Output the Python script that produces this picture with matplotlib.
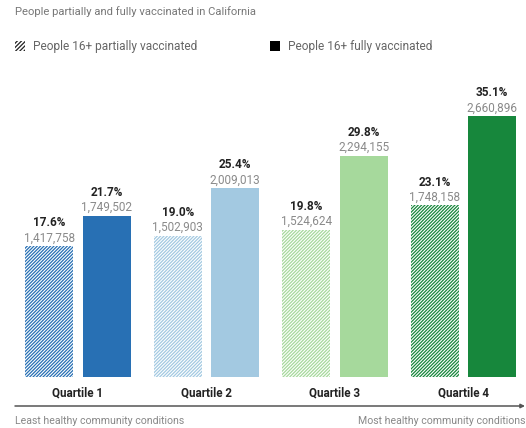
import matplotlib
matplotlib.use("Agg")
import matplotlib.pyplot as plt
from matplotlib.patches import Rectangle
import numpy as np

plt.rcParams['font.family'] = ['Roboto', 'DejaVu Sans']
plt.rcParams['hatch.linewidth'] = 0.9

# Data
quartiles = ["Quartile 1", "Quartile 2", "Quartile 3", "Quartile 4"]
partial_pct = [17.6, 19.0, 19.8, 23.1]
partial_count = [1417758, 1502903, 1524624, 1748158]
full_pct = [21.7, 25.4, 29.8, 35.1]
full_count = [1749502, 2009013, 2294155, 2660896]
colors = ["#2870b4", "#a3c9e1", "#a6d99c", "#17873c"]

title = "People partially and fully vaccinated in California"
legend_labels = ["People 16+ partially vaccinated", "People 16+ fully vaccinated"]
axis_left = "Least healthy community conditions"
axis_right = "Most healthy community conditions"

W, H = 526, 428
fig = plt.figure(figsize=(W / 100, H / 100), dpi=100)

# Bar axes: baseline at 377 px, 7.43 px per percentage point
base_px = 377
px_per_pct = 7.43
ymax = 40
ax = fig.add_axes([0, (H - base_px) / H, 1, ymax * px_per_pct / H])
ax.set_ylim(0, ymax)
group_px = 128.5
first_center_px = 78
ax.set_xlim(-first_center_px / group_px, (W - first_center_px) / group_px)
ax.axis("off")

x = np.arange(len(quartiles))
offset = 0.223
width = 0.374
hatch = "/" * 10

for i in range(len(quartiles)):
    c = colors[i]
    ax.bar(x[i] - offset, partial_pct[i], width, facecolor="white",
           edgecolor=c, hatch=hatch, linewidth=0)
    ax.bar(x[i] + offset, full_pct[i], width, color=c, linewidth=0)
    for xx, p, n in ((x[i] - offset, partial_pct[i], partial_count[i]),
                     (x[i] + offset, full_pct[i], full_count[i])):
        ax.annotate(f"{n:,}", (xx, p), xytext=(0, 6), textcoords="offset points",
                    ha="center", va="center", fontsize=8.5, color="#8a8a8a")
        ax.annotate(f"{p:.1f}%", (xx, p), xytext=(0, 16.8), textcoords="offset points",
                    ha="center", va="center", fontsize=8.5, color="#222222",
                    fontweight="bold")

# Overlay axes in pixel coordinates for title, legend and footer
ov = fig.add_axes([0, 0, 1, 1], zorder=-1)
ov.set_xlim(0, W)
ov.set_ylim(H, 0)
ov.axis("off")

ov.text(15, 12, title, fontsize=8.1, color="#777777", va="center", ha="left")

ov.add_patch(Rectangle((15, 41), 10, 10, facecolor="white", edgecolor="#222222",
                       hatch="/" * 8, linewidth=0))
ov.text(33, 46, legend_labels[0], fontsize=8.6, color="#666666", va="center", ha="left")
ov.add_patch(Rectangle((270, 41), 10, 10, facecolor="black", linewidth=0))
ov.text(288, 46, legend_labels[1], fontsize=8.6, color="#666666", va="center", ha="left")

for i, q in enumerate(quartiles):
    xc = first_center_px + i * group_px
    ov.text(xc, 393, q, fontsize=8.4, fontweight="bold", color="#222222",
            ha="center", va="center")

ov.annotate("", xy=(525, 406), xytext=(15, 406),
            arrowprops=dict(arrowstyle="-|>", color="#555555", lw=1.1,
                            mutation_scale=6, shrinkA=0, shrinkB=0))
ov.text(15, 421, axis_left, fontsize=7.6, color="#888888", ha="left", va="center")
ov.text(526, 421, axis_right, fontsize=7.6, color="#888888", ha="right", va="center")

fig.savefig("out.png", dpi=100)
